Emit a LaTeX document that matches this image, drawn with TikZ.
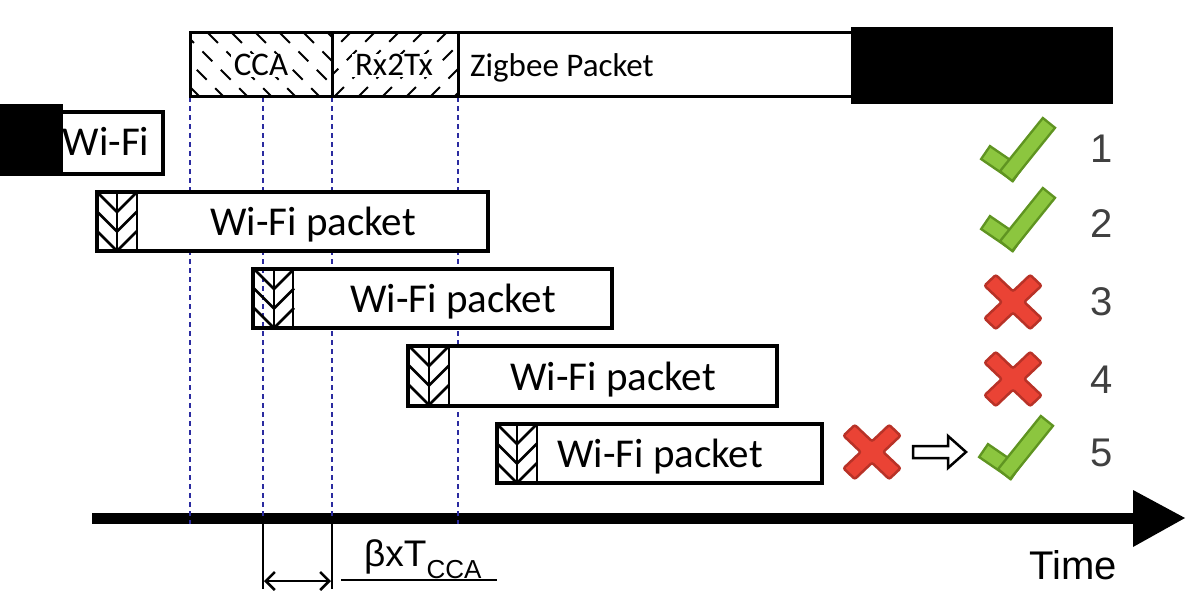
\documentclass[tikz,border=0pt]{standalone}
\usepackage{fontspec}
\setmainfont{Carlito}
\newfontfamily\arialf{Liberation Sans}
\usetikzlibrary{arrows.meta}
\definecolor{okfill}{HTML}{8CC63F}
\definecolor{okline}{HTML}{5F9421}
\definecolor{nofill}{HTML}{EA4335}
\definecolor{noline}{HTML}{B83227}
\definecolor{guide}{HTML}{2B2BA0}
\definecolor{numgray}{HTML}{404040}
\tikzset{
 box/.style={draw=black, line width=3.3pt},
 whitearea/.style={fill=white},
 guideline/.style={guide, line width=1.3pt, dash pattern=on 5pt off 4pt},
 chev/.style={line width=2.8pt},
 hatch/.style={line width=1.8pt, dash pattern=on 14pt off 12pt},
 pkttext/.style={font=\fontsize{41}{41}\selectfont, anchor=base, inner sep=0pt},
 zbtext/.style={font=\fontsize{33}{33}\selectfont, anchor=base, inner sep=0pt},
 zbclear/.style={zbtext, fill=white, inner xsep=3pt, inner ysep=1pt},
 numtext/.style={font=\arialf\fontsize{40}{40}\selectfont, text=numgray, anchor=base, inner sep=0pt},
 dimline/.style={line width=2.5pt},
 dimtip/.style={Straight Barb[length=9pt,width=18pt,line width=2.5pt]},
 pics/preamble/.style={code={
   \draw[chev] (20,0) -- (20,59);
   \foreach \k in {0,1,2} {
     \draw[chev] (0,\k*19.5) -- (20,\k*19.5+20) -- (40,\k*19.5);
   }
 }},
 pics/okmark/.style={code={
   \draw[okline, line width=18pt, line cap=rect] (-19,-13) -- (0,0);
   \draw[okfill, line width=13pt, line cap=rect] (-19,-13) -- (0,0);
   \draw[okline, line width=18pt, line cap=rect] (0,0) -- (33,-41);
   \draw[okfill, line width=13pt, line cap=rect] (0,0) -- (33,-41);
 }},
 pics/nomark/.style={code={
   \draw[noline, fill=nofill, line width=2.5pt, rounded corners=2pt, yscale=0.95]
     (28.5,17.2) -- (17.2,28.5) -- (0,11.3) -- (-17.2,28.5) -- (-28.5,17.2) -- (-11.3,0)
     -- (-28.5,-17.2) -- (-17.2,-28.5) -- (0,-11.3) -- (17.2,-28.5) -- (28.5,-17.2) -- (11.3,0) -- cycle;
 }},
}
\begin{document}
\begin{tikzpicture}[x=1pt,y=-1pt]
\useasboundingbox (0,0) rectangle (1200,610);

% time axis
\coordinate (ax0) at (92,518);
\coordinate (ax1) at (1135,518);
\draw[line width=11pt] (ax0) -- (ax1);
\fill (1133,490) -- (1185,518) -- (1133,547) -- cycle;
\node[font=\arialf\fontsize{40}{40}\selectfont, anchor=base, inner sep=0pt] (time) at (1073,579) {Time};

% guides
\foreach \gx in {190,263,332,458} {
  \draw[guideline] (\gx,97) -- (\gx,524);
}

% Zigbee bar
\draw[box, line width=3pt] (190,33) rectangle (870,97);
\begin{scope}
  \clip (190,33) rectangle (332,97);
  \foreach \hx in {112,136,...,340} { \draw[hatch] (\hx,33) -- ++(64,64); }
\end{scope}
\begin{scope}
  \clip (332,33) rectangle (458,97);
  \foreach \hx in {262,286,...,470} { \draw[hatch] (\hx,97) -- ++(64,-64); }
\end{scope}
\draw[line width=3pt] (332,33) -- (332,97);
\draw[line width=3pt] (458,33) -- (458,97);
\fill (851,27) rectangle (1113,104);
\node[zbclear] (cca) at (261,76) {CCA};
\node[zbclear] (rxtx) at (394,76) {Rx2Tx};
\node[zbtext, anchor=base west] (zb) at (470,77) {Zigbee Packet};

% first Wi-Fi
\draw[box, whitearea] (40,112) rectangle (163,174);
\fill (0,104) rectangle (63,176);
\node[pkttext] (w1) at (106,155) {Wi-Fi};

% Wi-Fi packets
\fill[whitearea] (137,192) rectangle (488,251);
\draw[box] (97,192) rectangle (488,251);
\pic at (97,192) {preamble};
\draw[chev] (137,192) -- (137,251);
\node[pkttext] (w2) at (313,235) {Wi-Fi packet};

\fill[whitearea] (293,269) rectangle (612,328);
\draw[box] (253,269) rectangle (612,328);
\pic at (254,269) {preamble};
\draw[chev] (293,269) -- (293,328);
\node[pkttext] (w3) at (453,312) {Wi-Fi packet};

\fill[whitearea] (449,346) rectangle (777,406);
\draw[box] (408,346) rectangle (777,406);
\pic at (409,346) {preamble};
\draw[chev] (449,346) -- (449,406);
\node[pkttext] (w4) at (613,390) {Wi-Fi packet};

\fill[whitearea] (537,424) rectangle (822,483);
\draw[box] (497,424) rectangle (822,483);
\pic at (497,424) {preamble};
\draw[chev] (537,424) -- (537,483);
\node[pkttext] (w5) at (660,467) {Wi-Fi packet};

% results
\pic at (1011,170) {okmark};
\pic at (1011,240) {okmark};
\pic at (1013,302) {nomark};
\pic at (1013,379) {nomark};
\pic at (872,452) {nomark};
\draw[line width=2.5pt, fill=white] (913,446) -- (948,446) -- (948,436) -- (966,452) -- (948,468) -- (948,458) -- (913,458) -- cycle;
\pic at (1009,468) {okmark};

\node[numtext] (n1) at (1102,162) {1};
\node[numtext] (n2) at (1102,237) {2};
\node[numtext] (n3) at (1102,315) {3};
\node[numtext] (n4) at (1102,393) {4};
\node[numtext] (n5) at (1102,466) {5};

% dimension
\coordinate (d1t) at (263,518);
\coordinate (d1b) at (263,589);
\coordinate (d2t) at (332,518);
\coordinate (d2b) at (332,589);
\coordinate (a1) at (264,581);
\coordinate (a2) at (331,581);
\draw[dimline] (d1t) -- (d1b);
\draw[dimline] (d2t) -- (d2b);
\draw[line width=2.5pt, {Straight Barb[length=9pt,width=18pt]}-{Straight Barb[length=9pt,width=18pt]}] (a1) -- (a2);
\node[font=\arialf\fontsize{37}{37}\selectfont, anchor=base west, inner sep=0pt] (beta) at (364,566)
  {βxT\raisebox{-12pt}{\fontsize{26}{26}\selectfont CCA}};
\coordinate (u1) at (341,580);
\coordinate (u2) at (497,580);
\draw[line width=2pt] (u1) -- (u2);
\end{tikzpicture}
\end{document}
